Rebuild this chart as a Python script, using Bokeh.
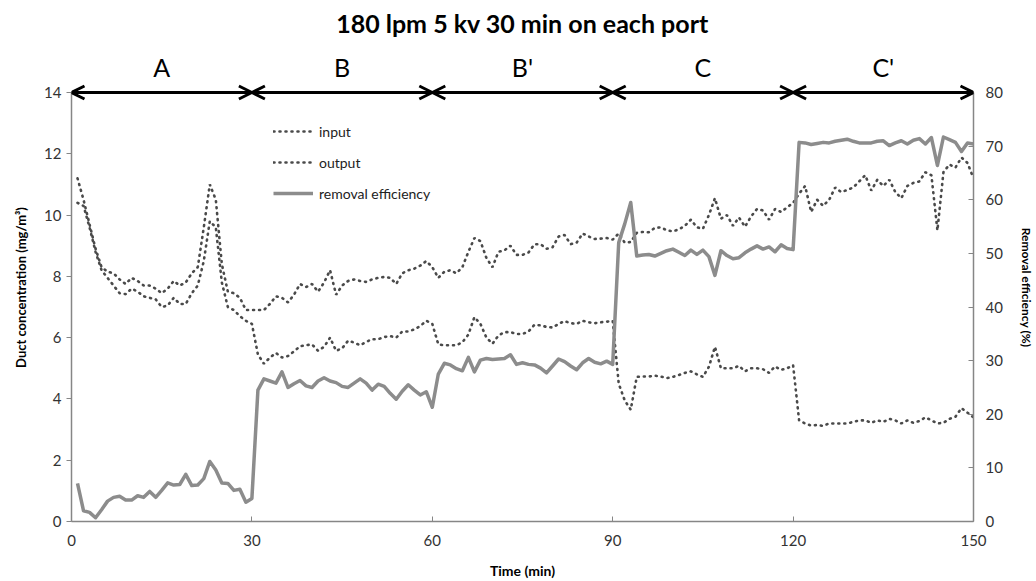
from bokeh.plotting import figure
from bokeh.models import (LinearAxis, Range1d, Arrow, OpenHead, Label, Legend,
                          LegendItem, FixedTicker, Title)
from bokeh.embed import file_html
from bokeh.resources import INLINE

# ---------------- data ----------------
time_min = list(range(1, 151))

input_conc = [
    11.2, 10.5, 9.7, 8.9, 8.3, 8.15, 8.1, 7.9, 7.75, 7.95,
    7.85, 7.7, 7.7, 7.6, 7.45, 7.6, 7.85, 7.7, 7.8, 8.1,
    8.3, 9.6, 11.0, 10.5, 8.4, 7.5, 7.45, 7.3, 6.9, 6.9,
    6.9, 6.9, 7.1, 7.35, 7.3, 7.15, 7.4, 7.75, 7.65, 7.75,
    7.5, 7.8, 8.2, 7.4, 7.7, 7.85, 7.9, 7.85, 7.82, 7.9,
    7.95, 7.98, 7.95, 7.75, 8.1, 8.2, 8.25, 8.35, 8.5, 8.3,
    7.95, 8.15, 8.2, 8.1, 8.3, 8.8, 9.25, 9.15, 8.6, 8.3,
    8.8, 8.85, 9.0, 8.7, 8.7, 8.78, 9.05, 9.05, 8.9, 8.95,
    9.3, 9.35, 9.05, 9.1, 9.4, 9.3, 9.22, 9.23, 9.25, 9.2,
    9.4, 9.1, 9.12, 9.42, 9.45, 9.44, 9.58, 9.6, 9.5, 9.47,
    9.53, 9.65, 9.85, 9.6, 9.55, 10.0, 10.55, 9.88, 10.0, 9.65,
    9.92, 9.62, 9.95, 10.2, 10.15, 9.85, 10.2, 10.1, 10.25, 10.4,
    10.7, 10.95, 10.1, 10.5, 10.3, 10.5, 10.9, 10.75, 10.82, 10.9,
    11.1, 11.3, 10.8, 11.15, 10.95, 11.15, 10.75, 10.55, 10.95, 11.05,
    11.1, 11.4, 11.3, 9.5, 11.4, 11.65, 11.55, 11.88, 11.7, 11.2,
]

output_conc = [
    10.4, 10.3, 9.6, 8.8, 8.2, 7.95, 7.7, 7.45, 7.42, 7.6,
    7.5, 7.35, 7.3, 7.25, 7.0, 7.05, 7.3, 7.1, 7.1, 7.45,
    7.7, 8.5, 9.8, 9.6, 7.8, 7.0, 6.9, 6.7, 6.55, 6.45,
    5.45, 5.15, 5.35, 5.5, 5.35, 5.4, 5.55, 5.72, 5.75, 5.78,
    5.57, 5.7, 6.0, 5.57, 5.65, 5.9, 5.84, 5.75, 5.86, 5.95,
    5.95, 6.02, 6.05, 6.0, 6.2, 6.2, 6.27, 6.38, 6.55, 6.45,
    5.78, 5.75, 5.75, 5.75, 5.85, 6.1, 6.67, 6.45, 6.0, 5.8,
    6.07, 6.18, 6.18, 6.12, 6.12, 6.2, 6.42, 6.4, 6.35, 6.33,
    6.45, 6.54, 6.47, 6.45, 6.55, 6.5, 6.47, 6.5, 6.52, 6.55,
    4.5, 3.95, 3.65, 4.72, 4.73, 4.73, 4.76, 4.73, 4.68, 4.72,
    4.78, 4.85, 4.9, 4.8, 4.72, 5.05, 5.7, 5.0, 5.0, 5.0,
    5.08, 4.9, 5.0, 5.0, 4.97, 4.85, 5.06, 4.95, 5.0, 5.1,
    3.3, 3.2, 3.13, 3.15, 3.12, 3.2, 3.2, 3.2, 3.2, 3.25,
    3.3, 3.3, 3.22, 3.3, 3.25, 3.35, 3.3, 3.2, 3.3, 3.22,
    3.28, 3.4, 3.3, 3.2, 3.22, 3.35, 3.42, 3.7, 3.55, 3.4,
]

removal_eff = [
    7.1, 2.0, 1.7, 0.7, 2.2, 3.8, 4.5, 4.7, 4.0, 4.0,
    4.8, 4.5, 5.6, 4.5, 5.8, 7.2, 6.8, 6.9, 8.8, 6.7,
    6.8, 8.0, 11.2, 9.6, 7.2, 7.1, 5.8, 6.0, 3.6, 4.3,
    24.5, 26.6, 26.2, 25.8, 27.9, 25.0, 25.7, 26.3, 25.3, 25.0,
    26.2, 26.8, 26.2, 25.9, 25.2, 25.0, 25.8, 26.6, 25.8, 24.5,
    25.6, 25.2, 23.9, 22.8, 24.3, 25.5, 24.5, 23.6, 24.2, 21.3,
    27.5, 29.5, 29.2, 28.5, 28.1, 30.6, 27.9, 30.1, 30.4, 30.2,
    30.3, 30.4, 31.1, 29.3, 29.6, 29.3, 29.2, 28.6, 27.7, 29.0,
    30.3, 29.8, 29.0, 28.3, 29.6, 30.4, 29.7, 29.4, 29.9, 29.3,
    52.0, 55.5, 59.5, 49.5, 49.7, 49.8, 49.5, 50.0, 50.5, 50.8,
    50.2, 49.6, 50.6, 49.8, 50.6, 49.4, 45.9, 50.5, 49.6, 49.0,
    49.2, 50.1, 50.8, 51.4, 50.8, 51.2, 50.3, 51.6, 50.9, 50.7,
    70.7, 70.6, 70.3, 70.5, 70.7, 70.6, 70.9, 71.1, 71.3, 70.9,
    70.6, 70.6, 70.6, 70.9, 71.0, 70.1, 70.6, 71.0, 70.4, 71.1,
    71.4, 70.4, 71.6, 66.4, 71.7, 71.2, 70.7, 69.0, 70.6, 70.4,
]

phase_names = ["A", "B", "B'", "C", "C'"]
phase_edges = [0, 30, 60, 90, 120, 150]

x_ticks = [0, 30, 60, 90, 120, 150]
left_ticks = [0, 2, 4, 6, 8, 10, 12, 14]
right_ticks = [0, 10, 20, 30, 40, 50, 60, 70, 80]
left_max = 14
right_max = 80

title_text = "180 lpm 5 kv 30 min on each port"
FONT = "Lato"

# ---------------- layout ----------------
W, H = 1036, 581
B_LEFT, B_RIGHT, B_TOP, B_BOTTOM = 71, 63, 53, 60
FRAME_H = H - B_TOP - B_BOTTOM
AXIS_H = 429                    # pixel height of the 0..14 axis part
scale = FRAME_H / AXIS_H

p = figure(width=W, height=H, output_backend="svg", toolbar_location=None,
           x_range=Range1d(0, 150), y_range=Range1d(0, left_max * scale),
           min_border_left=B_LEFT, min_border_right=B_RIGHT,
           min_border_top=B_TOP, min_border_bottom=B_BOTTOM)
p.outline_line_color = None
p.xgrid.visible = False
p.ygrid.visible = False
p.background_fill_color = "white"
p.border_fill_color = "white"

p.title.text = title_text
p.title.align = "center"
p.title.text_font = FONT
p.title.text_font_size = "25px"
p.title.text_font_style = "bold"
p.title.text_color = "black"
p.title.standoff = 10

# blank spacer between title and frame, lifts the title
p.add_layout(Title(text=" ", text_font_size="8px", standoff=0), "above")

p.extra_y_ranges = {"eff": Range1d(0, right_max * scale)}

AX_COLOR = "#868686"
TICK_LABEL_COLOR = "#333333"

xa = p.xaxis[0]
xa.ticker = FixedTicker(ticks=x_ticks)
xa.axis_label = "Time (min)"
xa.major_tick_in = 5
xa.major_tick_out = 0
xa.minor_tick_line_color = None
xa.axis_line_color = AX_COLOR
xa.axis_line_width = 1.5
xa.major_tick_line_color = AX_COLOR
xa.major_label_text_font = FONT
xa.major_label_text_font_size = "15px"
xa.major_label_text_color = TICK_LABEL_COLOR
xa.major_label_standoff = 13
xa.axis_label_text_font = FONT
xa.axis_label_text_font_size = "14px"
xa.axis_label_text_font_style = "bold"
xa.axis_label_text_color = "black"
xa.axis_label_standoff = 13

ya = p.yaxis[0]
ya.ticker = FixedTicker(ticks=left_ticks)
ya.bounds = (0, left_max)
ya.axis_label = "Duct concentration (mg/m³)"
ya.major_tick_in = 0
ya.major_tick_out = 5
ya.minor_tick_line_color = None
ya.axis_line_color = AX_COLOR
ya.axis_line_width = 1.5
ya.major_tick_line_color = AX_COLOR
ya.major_label_text_font = FONT
ya.major_label_text_font_size = "15px"
ya.major_label_text_color = TICK_LABEL_COLOR
ya.major_label_standoff = 5
ya.axis_label_text_font = FONT
ya.axis_label_text_font_size = "13px"
ya.axis_label_text_font_style = "bold"
ya.axis_label_text_color = "black"
ya.axis_label_standoff = 12

ra = LinearAxis(y_range_name="eff", ticker=FixedTicker(ticks=right_ticks),
                axis_label="Removal efficiency (%)", bounds=(0, right_max))
ra.major_tick_in = 5
ra.major_tick_out = 0
ra.minor_tick_line_color = None
ra.axis_line_color = AX_COLOR
ra.axis_line_width = 1.5
ra.major_tick_line_color = AX_COLOR
ra.major_label_text_font = FONT
ra.major_label_text_font_size = "15px"
ra.major_label_text_color = TICK_LABEL_COLOR
ra.major_label_standoff = 12
ra.axis_label_text_font = FONT
ra.axis_label_text_font_size = "12px"
ra.axis_label_text_font_style = "bold"
ra.axis_label_text_color = "black"
ra.axis_label_standoff = 13
p.add_layout(ra, "right")

# ---------------- series ----------------
DOT_COLOR = "#4a4a4a"
r_in = p.line(time_min, input_conc, line_color=DOT_COLOR, line_width=2.6,
              line_dash="1 5", line_cap="round")
r_out = p.line(time_min, output_conc, line_color=DOT_COLOR, line_width=2.6,
               line_dash="1 5", line_cap="round")
r_eff = p.line(time_min, removal_eff, y_range_name="eff", line_color="#8c8c8c",
               line_width=3.5, line_join="round")

legend = Legend(items=[LegendItem(label="input", renderers=[r_in]),
                       LegendItem(label="output", renderers=[r_out]),
                       LegendItem(label="removal efficiency", renderers=[r_eff])],
                location=(202, 318))
legend.border_line_color = None
legend.background_fill_alpha = 0
legend.padding = 0
legend.margin = 0
legend.spacing = 11
legend.glyph_width = 40
legend.glyph_height = 20
legend.label_standoff = 6
legend.label_text_font = FONT
legend.label_text_font_size = "14px"
legend.label_text_color = "#222222"
p.add_layout(legend)

# ---------------- phase arrows and labels ----------------
for name, lo, hi in zip(phase_names, phase_edges[:-1], phase_edges[1:]):
    p.add_layout(Arrow(x_start=lo, y_start=left_max, x_end=hi, y_end=left_max,
                       line_width=3, line_color="black",
                       start=OpenHead(size=13, line_width=3, line_color="black"),
                       end=OpenHead(size=13, line_width=3, line_color="black")))
    p.add_layout(Label(x=(lo + hi) / 2, y=left_max, y_offset=26, text=name,
                       text_align="center", text_baseline="alphabetic",
                       text_font=FONT, text_font_size="25px", text_color="black"))

open("out.html", "w").write(file_html(p, INLINE))
